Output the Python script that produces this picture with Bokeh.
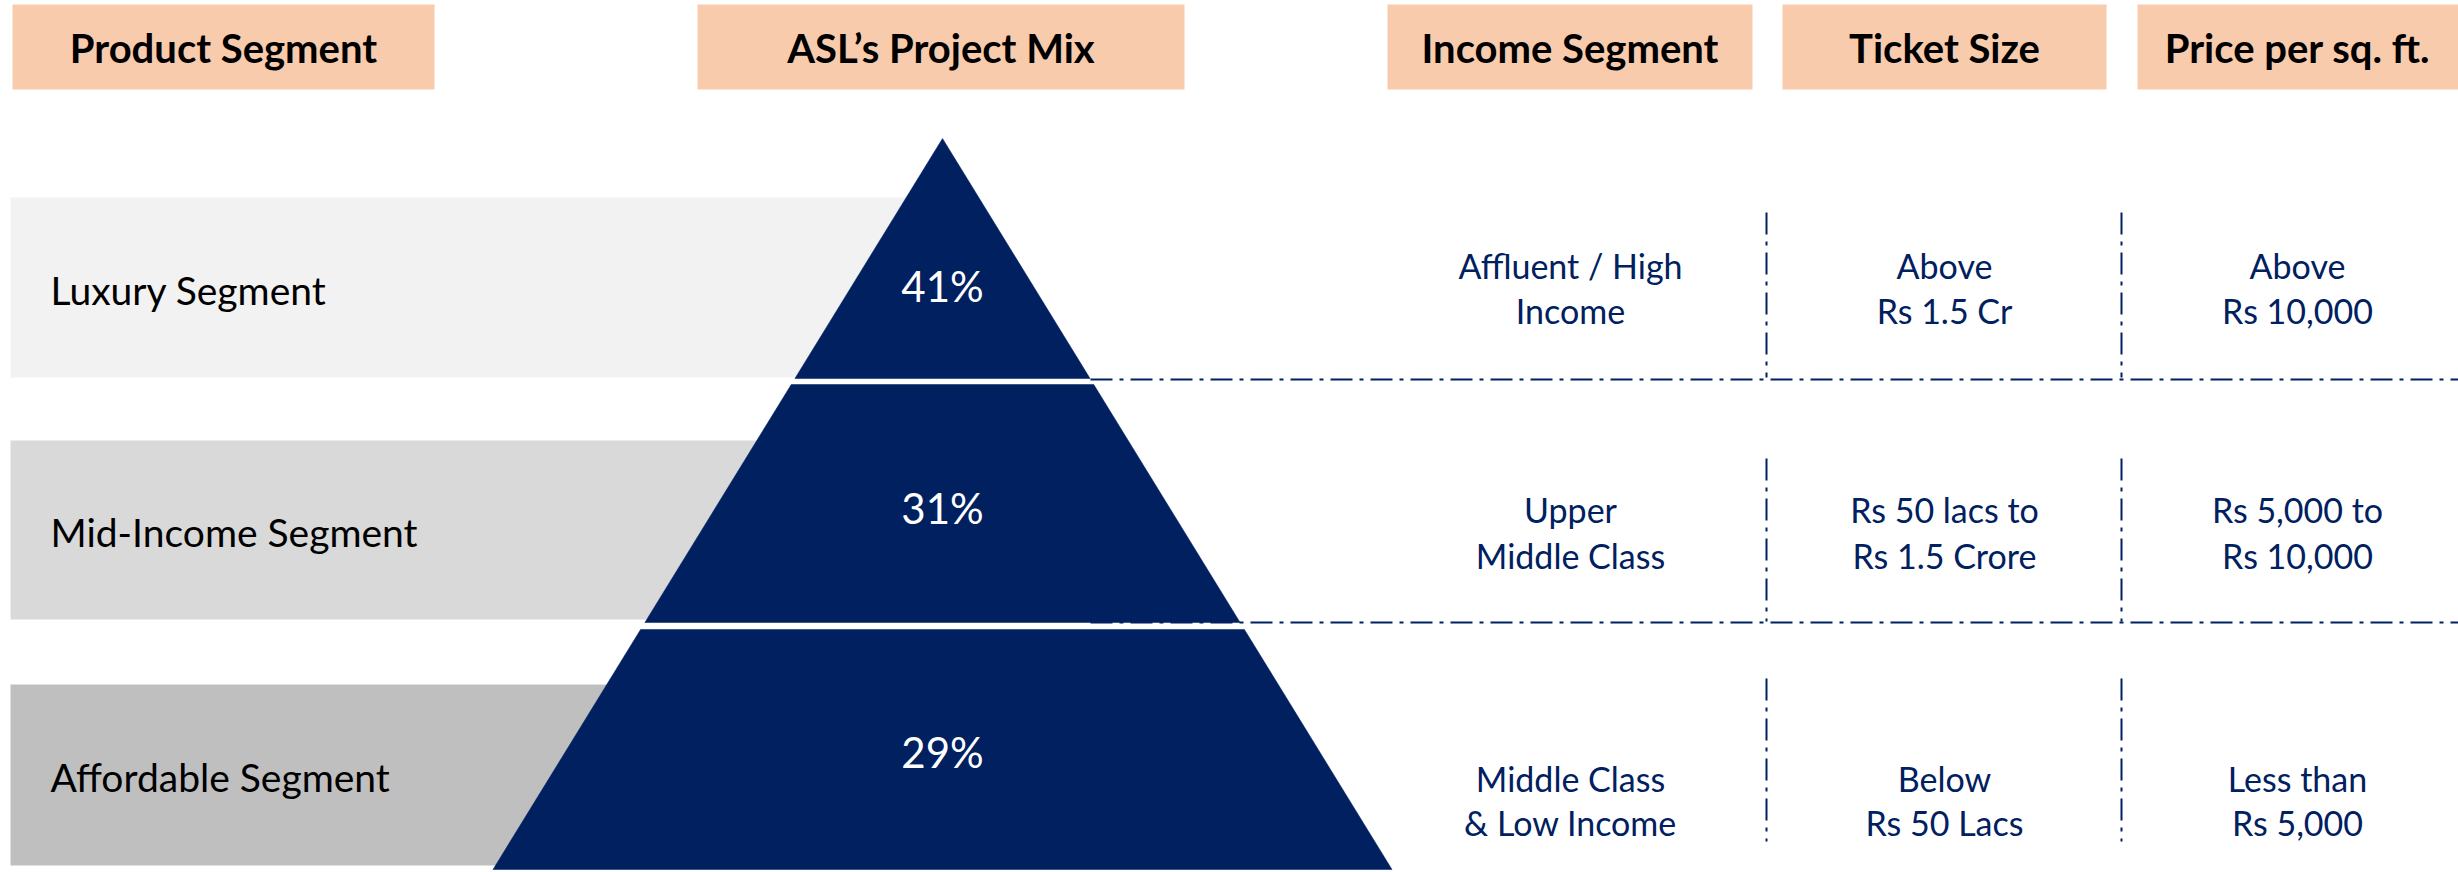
from bokeh.plotting import figure
from bokeh.models import Range1d
from bokeh.core.properties import value
from bokeh.embed import file_html
from bokeh.resources import INLINE

# ---------------- data ----------------
headers = ["Product Segment", "ASL\u2019s Project Mix", "Income Segment", "Ticket Size", "Price per sq. ft."]
segments = ["Luxury Segment", "Mid-Income Segment", "Affordable Segment"]
project_mix = [41, 31, 29]
income_segment = ["Affluent / High\nIncome", "Upper\nMiddle Class", "Middle Class\n& Low Income"]
ticket_size = ["Above\nRs 1.5 Cr", "Rs 50 lacs to\nRs 1.5 Crore", "Below\nRs 50 Lacs"]
price_sqft = ["Above\nRs 10,000", "Rs 5,000 to\nRs 10,000", "Less than\nRs 5,000"]

# ---------------- layout (pixel space of the page) ----------------
NAVY = "#002060"
PEACH = "#F8CBAD"
SEG_FILL = ["#F2F2F2", "#D9D9D9", "#BFBFBF"]
FONT = value("Lato")

hdr_left = [12, 697, 1387, 1782, 2137]
hdr_right = [434, 1184, 1752, 2106, 2460]
hdr_top, hdr_bot, hdr_text_y = 4, 89, 47

seg_box_top = [197, 440, 684]
seg_box_bot = [377, 619, 865]
seg_label_y = [289, 531, 776]
tier_top = [138, 384, 629]
tier_bot = [378, 622, 869]
pct_y = [285, 507, 751]
line1_y = [265, 509, 778]
line2_y = [310, 555, 822]
vline_y0 = [212, 458, 678]
vline_y1 = [377, 621, 841]
hline_y = [379, 622]
cx = 942
apex_y = 138
slope = 449.5 / (869 - 138)
col_x = [1570, 1944, 2297]
vline_x = [1766, 2121]

W, H = 2458, 872
p = figure(width=W, height=H, x_range=Range1d(0, W), y_range=Range1d(H, 0),
           output_backend="svg", toolbar_location=None, min_border=0)
p.axis.visible = False
p.grid.visible = False
p.outline_line_color = None
p.background_fill_color = "white"
p.border_fill_color = "white"

# header boxes
p.quad(left=hdr_left, right=hdr_right, top=[hdr_top] * 5, bottom=[hdr_bot] * 5,
       fill_color=PEACH, line_color=None)
hdr_x = [(l + r) / 2 for l, r in zip(hdr_left, hdr_right)]
hdr_x[4] = 2297
p.text(x=hdr_x, y=[hdr_text_y] * 5, text=headers, text_align="center", text_baseline="middle",
       text_font=FONT, text_font_style="bold", text_font_size="40px", text_color="black")

# segment boxes
p.quad(left=[10] * 3, right=[cx] * 3, top=seg_box_top, bottom=seg_box_bot,
       fill_color=SEG_FILL, line_color=None)
p.text(x=[50] * 3, y=seg_label_y, text=segments, text_align="left", text_baseline="middle",
       text_font=FONT, text_font_size="39px", text_color="black")

# pyramid tiers
xs, ys = [], []
for t, b in zip(tier_top, tier_bot):
    ht = (t - apex_y) * slope
    hb = (b - apex_y) * slope
    xs.append([cx - ht, cx + ht, cx + hb, cx - hb])
    ys.append([t, t, b, b])
p.patches(xs=xs, ys=ys, fill_color=NAVY, line_color=NAVY, line_width=0.5)
p.text(x=[cx] * 3, y=pct_y, text=[f"{v}%" for v in project_mix], text_align="center",
       text_baseline="middle", text_font=FONT, text_font_size="42px", text_color="white")

# dash-dot separators
p.multi_line(xs=[[1090, 2460]] * 2, ys=[[y, y] for y in hline_y],
             line_color=NAVY, line_width=2, line_dash="22 7 4 7")
vx, vy = [], []
for x in vline_x:
    for a, b in zip(vline_y0, vline_y1):
        vx.append([x, x])
        vy.append([a, b])
p.multi_line(xs=vx, ys=vy, line_color=NAVY, line_width=2, line_dash="22 7 4 7")

# right columns (each cell has two lines)
for col, x in zip([income_segment, ticket_size, price_sqft], col_x):
    first = [s.split("\n")[0] for s in col]
    second = [s.split("\n")[1] for s in col]
    p.text(x=[x] * 3, y=line1_y, text=first, text_align="center", text_baseline="middle",
           text_font=FONT, text_font_size="34px", text_color=NAVY)
    p.text(x=[x] * 3, y=line2_y, text=second, text_align="center", text_baseline="middle",
           text_font=FONT, text_font_size="34px", text_color=NAVY)

open("out.html", "w").write(file_html(p, INLINE))
